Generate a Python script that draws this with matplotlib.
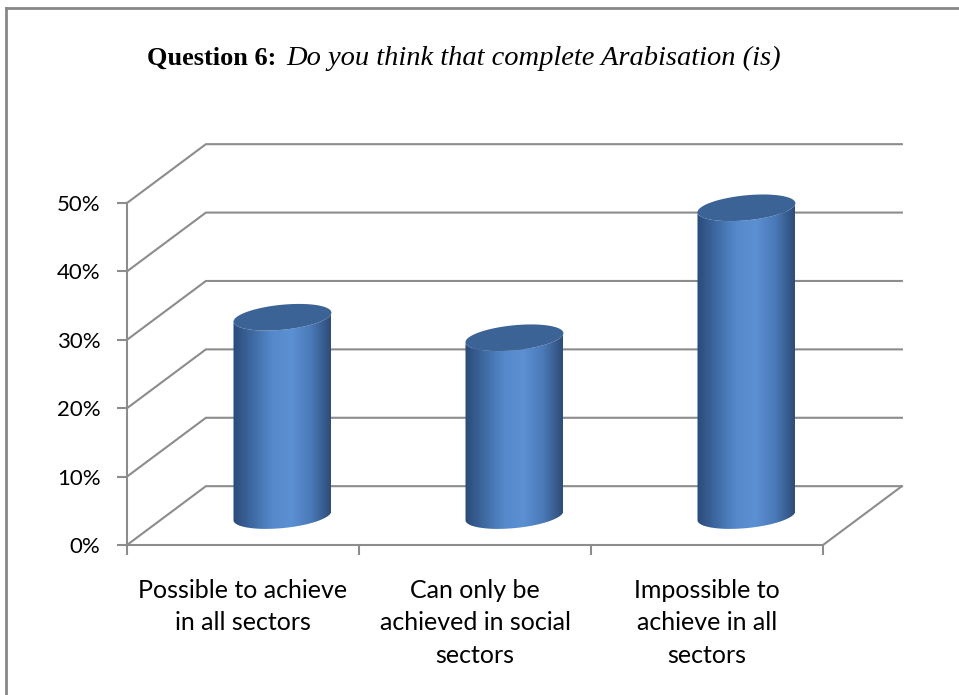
import numpy as np
import matplotlib.pyplot as plt
from matplotlib.patches import Polygon
from matplotlib.lines import Line2D
from matplotlib.colors import LinearSegmentedColormap

categories = ["Possible to achieve\nin all sectors",
              "Can only be\nachieved in social\nsectors",
              "Impossible to\nachieve in all\nsectors"]
values = [0.29, 0.26, 0.45]
yticks = [0.0, 0.1, 0.2, 0.3, 0.4, 0.5]
ytick_labels = ["0%", "10%", "20%", "30%", "40%", "50%"]

# oblique depth offset of the back wall (data units)
DX, DY = 0.34, 0.086
GRID = "#8c8c8c"

fig = plt.figure(figsize=(9.59, 6.95), dpi=100)
W, H = 959, 695
ax = fig.add_axes([127 / W, 150 / H, 696 / W, 342 / H])
ax.set_xlim(0, 3)
ax.set_ylim(0, 0.5)

# back wall and floor
for v in yticks:
    ax.plot([0, DX, 3 + DX], [v, v + DY, v + DY], color=GRID, lw=1.5,
            clip_on=False, zorder=1)
ax.plot([3 + DX, 3], [DY, 0], color=GRID, lw=1.5, clip_on=False, zorder=1)

# cylinders
a = 0.211          # half width
b = 0.0183         # ellipse half height
s = 0.0066         # tilt of ellipse
t = np.linspace(0, 2 * np.pi, 200)
body_cmap = LinearSegmentedColormap.from_list(
    "cyl", ["#2b4a78", "#3f6aa3", "#5589cb", "#5b90d3", "#4a79b8", "#2e4c77"])
grad = np.linspace(0, 1, 256).reshape(1, -1)

for i, v in enumerate(values):
    cx = i + 0.5 + DX / 2
    y0 = DY / 2
    y1 = v + DY / 2
    tb = np.linspace(np.pi, 2 * np.pi, 100)
    bx = cx + a * np.cos(tb)
    by = y0 + b * np.sin(tb) + s * np.cos(tb)
    tt = np.linspace(0, np.pi, 100)
    tx = cx + a * np.cos(tt)
    ty = y1 - b * np.sin(tt) + s * np.cos(tt)
    body = Polygon(np.column_stack([np.r_[bx, tx], np.r_[by, ty]]),
                   closed=True, facecolor="none", edgecolor="none",
                   clip_on=False)
    ax.add_patch(body)
    im = ax.imshow(grad, cmap=body_cmap, aspect="auto",
                   extent=[cx - a, cx + a, y0 - b - s, y1 + b + s],
                   zorder=3, interpolation="bicubic")
    im.set_clip_path(body)
    cap = Polygon(np.column_stack([cx + a * np.cos(t),
                                   y1 + b * np.sin(t) + s * np.cos(t)]),
                  closed=True, facecolor="#3b6396", edgecolor="none",
                  zorder=4, clip_on=False)
    ax.add_patch(cap)

ax.set_xlim(0, 3)
ax.set_ylim(0, 0.5)

# front axes
for side in ["top", "right"]:
    ax.spines[side].set_visible(False)
for side in ["left", "bottom"]:
    ax.spines[side].set_color(GRID)
    ax.spines[side].set_linewidth(1.5)
ax.set_yticks(yticks)
ax.set_yticklabels(ytick_labels)
ax.set_xticks([0, 1, 2, 3])
ax.set_xticklabels([])
ax.tick_params(axis="both", color=GRID, width=1.5, length=7)
ax.tick_params(axis="y", labelsize=16, pad=12)
for lbl in ax.get_yticklabels():
    lbl.set_family("Lato")
for i, c in enumerate(categories):
    ax.text(i + 0.5, -0.049, c, ha="center", va="top", fontsize=18,
            family="Lato", linespacing=1.5, transform=ax.transData)

# title
fig.text(147 / W, 1 - 58 / H, "Question 6:", family="Liberation Serif",
         fontweight="bold", fontsize=19, va="center", ha="left")
fig.text(286 / W, 1 - 58 / H, "Do you think that complete Arabisation (is)",
         family="Liberation Serif", style="italic", fontsize=20.5,
         va="center", ha="left")

# outer frame
fig.add_artist(Line2D([6 / W, 6 / W], [0, 1 - 8 / H], color="#888888",
                      lw=2, transform=fig.transFigure))
fig.add_artist(Line2D([6 / W, 1], [1 - 8 / H, 1 - 8 / H], color="#888888",
                      lw=2, transform=fig.transFigure))

fig.savefig("out.png", dpi=100)
